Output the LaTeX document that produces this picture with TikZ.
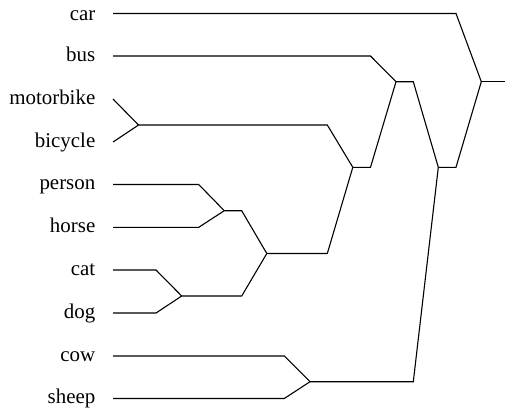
\documentclass[tikz,border=0pt]{standalone}
\usepackage{fontspec}
\setmainfont{Liberation Serif}
\begin{document}
\begin{tikzpicture}[x=1bp,y=-1bp,
  link/.style={line width=1.1bp, line join=miter},
  lab/.style={anchor=base east, inner sep=0pt, font=\fontsize{21}{24}\selectfont}]
\useasboundingbox (0,0) rectangle (505,410);
% labels
\node[lab] (lcar)  at (95.5,20.3)  {car};
\node[lab] (lbus)  at (95.5,61.2)  {bus};
\node[lab] (lmb)   at (95.5,104.2) {motorbike};
\node[lab] (lbc)   at (95.5,147)   {bicycle};
\node[lab] (lpe)   at (95.5,189.5) {person};
\node[lab] (lho)   at (95.5,232.5) {horse};
\node[lab] (lca)   at (95.5,275)   {cat};
\node[lab] (ldo)   at (95.5,318)   {dog};
\node[lab] (lco)   at (95.5,361)   {cow};
\node[lab] (lsh)   at (95.5,403.5) {sheep};
% leaf starts
\coordinate (car) at (113,13.5);
\coordinate (bus) at (113,56);
\coordinate (mb)  at (113,99);
\coordinate (bc)  at (113,142);
\coordinate (pe)  at (113,184.5);
\coordinate (ho)  at (113,227.3);
\coordinate (ca)  at (113,270);
\coordinate (do)  at (113,313);
\coordinate (co)  at (113,356);
\coordinate (sh)  at (113,398.5);
% merges
\coordinate (m1) at (138.5,125);
\coordinate (m2) at (224.3,210.7);
\coordinate (m3) at (181.7,296);
\coordinate (m4) at (266.8,253.5);
\coordinate (m5) at (396,81.7);
\coordinate (m6) at (352.8,167.3);
\coordinate (m7) at (310,381.7);
\coordinate (m8) at (438.3,167.3);
\coordinate (root) at (481.3,81.7);
\coordinate (rootend) at (505,81.7);
% links
\draw[link] (car) -- (456,13.5) -- (root);
\draw[link] (bus) -- (370.5,56) -- (m5);
\draw[link] (mb) -- (m1);
\draw[link] (bc) -- (m1);
\draw[link] (pe) -- (198.7,184.5) -- (m2);
\draw[link] (ho) -- (198.7,227.3) -- (m2);
\draw[link] (ca) -- (156,270) -- (m3);
\draw[link] (do) -- (156,313) -- (m3);
\draw[link] (co) -- (284.3,356) -- (m7);
\draw[link] (sh) -- (284.3,398.5) -- (m7);
\draw[link] (m2) -- (241.7,210.7) -- (m4);
\draw[link] (m3) -- (241.7,296) -- (m4);
\draw[link] (m1) -- (327.3,125) -- (m6);
\draw[link] (m4) -- (327.3,253.5) -- (m6);
\draw[link] (m6) -- (370.5,167.3) -- (m5);
\draw[link] (m5) -- (413.3,81.7) -- (m8);
\draw[link] (m7) -- (413.3,381.7) -- (m8);
\draw[link] (m8) -- (456,167.3) -- (root);
\draw[link] (root) -- (rootend);
\end{tikzpicture}
\end{document}
